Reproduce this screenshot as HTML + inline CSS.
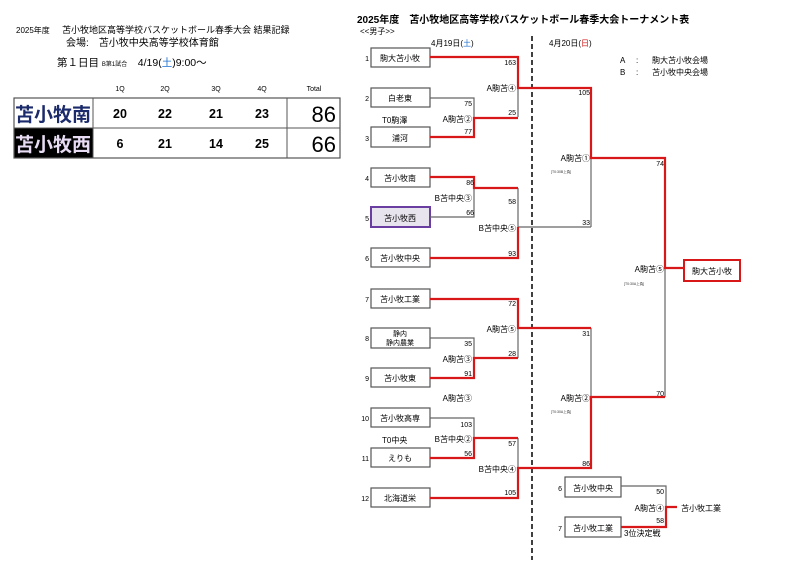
<!DOCTYPE html>
<html><head><meta charset="utf-8"><style>
body{margin:0;background:#fff;}
svg{display:block;font-family:"Liberation Sans","Noto Sans CJK JP",sans-serif;}
</style></head><body>
<svg width="800" height="566" viewBox="0 0 800 566" xmlns="http://www.w3.org/2000/svg">
<rect width="800" height="566" fill="#fff"/>
<!-- left header -->
<text x="16" y="33" font-size="8">2025年度</text>
<text x="62" y="33" font-size="9">苫小牧地区高等学校バスケットボール春季大会  結果記録</text>
<text x="66" y="46" font-size="10">会場:　苫小牧中央高等学校体育館</text>
<text x="57" y="66" font-size="10.5">第１日目 <tspan font-size="6">B第1試合</tspan>　4/19(<tspan fill="#1e6fd0">土</tspan>)9:00～</text>
<g font-size="7" text-anchor="middle">
<text x="120" y="91">1Q</text><text x="165" y="91">2Q</text><text x="216" y="91">3Q</text><text x="262" y="91">4Q</text><text x="314" y="91">Total</text>
</g>
<rect x="14" y="128" width="79" height="30" fill="#000"/>
<rect x="14" y="98" width="326" height="60" fill="none" stroke="#555" stroke-width="1.2"/>
<line x1="14" y1="128" x2="340" y2="128" stroke="#555"/>
<line x1="93" y1="98" x2="93" y2="158" stroke="#555"/>
<line x1="287" y1="98" x2="287" y2="158" stroke="#555"/>
<text x="53" y="121" font-size="19" font-weight="bold" text-anchor="middle" fill="#1a2a6a">苫小牧南</text>
<text x="53" y="151" font-size="19" font-weight="bold" text-anchor="middle" fill="#e8dcf4">苫小牧西</text>
<g font-size="12.5" text-anchor="middle" font-weight="bold">
<text x="120" y="118">20</text><text x="165" y="118">22</text><text x="216" y="118">21</text><text x="262" y="118">23</text>
<text x="120" y="148">6</text><text x="165" y="148">21</text><text x="216" y="148">14</text><text x="262" y="148">25</text>
</g>
<text x="336" y="122" font-size="22" text-anchor="end">86</text>
<text x="336" y="152" font-size="22" text-anchor="end">66</text>

<!-- right header -->
<text x="357" y="23" font-size="10" font-weight="bold">2025年度　苫小牧地区高等学校バスケットボール春季大会トーナメント表</text>
<text x="360" y="34" font-size="8">&lt;&lt;男子&gt;&gt;</text>
<text x="431" y="46" font-size="8">4月19日(<tspan fill="#1e6fd0">土</tspan>)</text>
<text x="549" y="46" font-size="8">4月20日(<tspan fill="#d01010">日</tspan>)</text>
<g font-size="8"><text x="620" y="63">A</text><text x="636" y="63">:</text><text x="652" y="63">駒大苫小牧会場</text>
<text x="620" y="75">B</text><text x="636" y="75">:</text><text x="652" y="75">苫小牧中央会場</text></g>
<line x1="532" y1="36" x2="532" y2="560" stroke="#000" stroke-width="1.5" stroke-dasharray="5,3"/>

<!-- boxes -->
<g fill="#fff" stroke="#555" stroke-width="1.2">
<rect x="371" y="48" width="59" height="19"/><rect x="371" y="88" width="59" height="19"/><rect x="371" y="127" width="59" height="20"/>
<rect x="371" y="168" width="59" height="19"/><rect x="371" y="248" width="59" height="19"/>
<rect x="371" y="289" width="59" height="19"/><rect x="371" y="328" width="59" height="20"/><rect x="371" y="368" width="59" height="19"/>
<rect x="371" y="408" width="59" height="19"/><rect x="371" y="448" width="59" height="19"/><rect x="371" y="488" width="59" height="19"/>
<rect x="565" y="477" width="56" height="20"/><rect x="565" y="517" width="56" height="20"/>
</g>
<rect x="371" y="207" width="59" height="20" fill="#e8e4ee" stroke="#6a3ea1" stroke-width="2"/>
<rect x="684" y="260" width="56" height="21" fill="#fff" stroke="#d81818" stroke-width="2"/>
<g font-size="8" text-anchor="middle">
<text x="400" y="61">駒大苫小牧</text><text x="400" y="101">白老東</text><text x="400" y="141">浦河</text>
<text x="400" y="181">苫小牧南</text><text x="400" y="221">苫小牧西</text><text x="400" y="261">苫小牧中央</text>
<text x="400" y="302">苫小牧工業</text><text x="400" y="336" font-size="7">静内</text><text x="400" y="345" font-size="7">静内農業</text>
<text x="400" y="381">苫小牧東</text><text x="400" y="421">苫小牧高専</text><text x="400" y="461">えりも</text><text x="400" y="501">北海道栄</text>
<text x="593" y="491">苫小牧中央</text><text x="593" y="531">苫小牧工業</text><text x="712" y="274">駒大苫小牧</text>
</g>
<g font-size="7" text-anchor="end">
<text x="369" y="61">1</text><text x="369" y="101">2</text><text x="369" y="141">3</text><text x="369" y="181">4</text><text x="369" y="221">5</text><text x="369" y="261">6</text>
<text x="369" y="302">7</text><text x="369" y="341">8</text><text x="369" y="381">9</text><text x="369" y="421">10</text><text x="369" y="461">11</text><text x="369" y="501">12</text>
<text x="562" y="491">6</text><text x="562" y="531">7</text>
</g>

<!-- gray lines -->
<g stroke="#666" stroke-width="1.2" fill="none">
<path d="M430 98H474V118"/><path d="M518 88V117"/>
<path d="M430 217H474V188"/><path d="M518 188V227H591"/>
<path d="M430 338H474V358"/><path d="M518 328V358"/>
<path d="M430 418H474V438"/><path d="M518 438V468"/>
<path d="M591 158V227"/><path d="M591 328V397"/><path d="M665 268V397"/>
<path d="M621 486H666V507"/>
</g>
<!-- red lines -->
<g stroke="#d81818" stroke-width="2.2" fill="none">
<path d="M430 57H518V88H532"/><path d="M430 137H474V118H518"/>
<path d="M430 177H474V188H518"/><path d="M430 258H518V227"/>
<path d="M532 88H591V158H665V268H684"/>
<path d="M430 299H518V328H591"/><path d="M430 378H474V358H518"/>
<path d="M430 458H474V438H518"/><path d="M430 498H518V468H591V397H665"/>
<path d="M621 527H666V507H677"/>
</g>
<!-- labels -->
<g font-size="7" text-anchor="end">
<text x="516" y="65">163</text><text x="472" y="106">75</text><text x="516" y="115">25</text><text x="472" y="134">77</text>
<text x="474" y="185">86</text><text x="516" y="204">58</text><text x="474" y="215">66</text><text x="516" y="256">93</text>
<text x="516" y="306">72</text><text x="472" y="346">35</text><text x="516" y="356">28</text><text x="472" y="376">91</text>
<text x="472" y="427">103</text><text x="516" y="446">57</text><text x="472" y="456">56</text><text x="516" y="495">105</text>
<text x="590" y="95">105</text><text x="590" y="225">33</text><text x="664" y="166">74</text>
<text x="590" y="336">31</text><text x="664" y="396">70</text><text x="590" y="466">86</text>
<text x="664" y="494">50</text><text x="664" y="523">58</text>
</g>
<g font-size="8" text-anchor="end">
<text x="516" y="91">A駒苫④</text><text x="472" y="122">A駒苫②</text>
<text x="472" y="201">B苫中央③</text><text x="516" y="231">B苫中央⑤</text>
<text x="516" y="332">A駒苫⑤</text><text x="472" y="362">A駒苫③</text><text x="472" y="401">A駒苫③</text>
<text x="472" y="442">B苫中央②</text><text x="516" y="472">B苫中央④</text>
<text x="590" y="161">A駒苫①</text><text x="664" y="272">A駒苫⑤</text><text x="590" y="401">A駒苫②</text>
<text x="664" y="511">A駒苫④</text>
</g>
<text x="382" y="123" font-size="8">T0駒澤</text><text x="382" y="443" font-size="8">T0中央</text>
<text x="681" y="511" font-size="8">苫小牧工業</text>
<text x="624" y="536" font-size="8">3位決定戦</text>
<g font-size="3.5" fill="#333"><text x="551" y="173">[T0:30B上負]</text><text x="624" y="285">[T0:30A上負]</text><text x="551" y="413">[T0:30A上負]</text></g>
</svg>
</body></html>
